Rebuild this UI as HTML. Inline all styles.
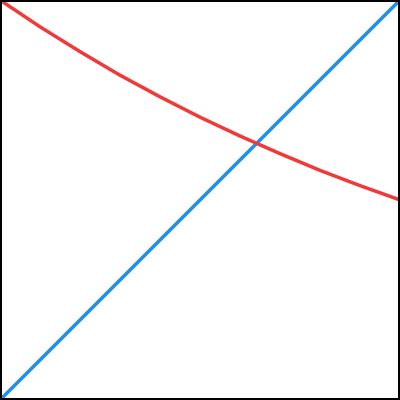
<!DOCTYPE html>
<html><head><meta charset="utf-8"><style>
html,body{margin:0;padding:0;background:#fff;}
svg{display:block;}
</style></head><body>
<svg id="chart" width="400" height="400">
<rect x="1" y="1" width="398" height="398" fill="#fff" stroke="#000" stroke-width="2"/>
</svg>
<script>
const xValues = [0,0.1,0.2,0.3,0.4,0.5,0.6,0.7,0.8,0.9,1];
const redValues = [1,0.933,0.871,0.812,0.758,0.707,0.660,0.616,0.574,0.536,0.5];
const blueValues = [0,0.1,0.2,0.3,0.4,0.5,0.6,0.7,0.8,0.9,1];
const sx = v => v*400;
const sy = v => 400 - v*400;
const svg = document.getElementById('chart');
function line(vals, color, name){
  const p = document.createElementNS('http://www.w3.org/2000/svg','polyline');
  p.setAttribute('points', xValues.map((x,i)=>sx(x)+','+sy(vals[i])).join(' '));
  p.setAttribute('fill','none');
  p.setAttribute('stroke',color);
  p.setAttribute('stroke-width','3.5');
  
  
  svg.appendChild(p);
}
line(blueValues,'#1e8ff0','blue-line');
line(redValues,'#f03a3a','red-curve');
const b = document.createElementNS('http://www.w3.org/2000/svg','rect');
b.setAttribute('x','1');b.setAttribute('y','1');b.setAttribute('width','398');b.setAttribute('height','398');
b.setAttribute('fill','none');b.setAttribute('stroke','#000');b.setAttribute('stroke-width','2');


svg.appendChild(b);
</script>
</body></html>
